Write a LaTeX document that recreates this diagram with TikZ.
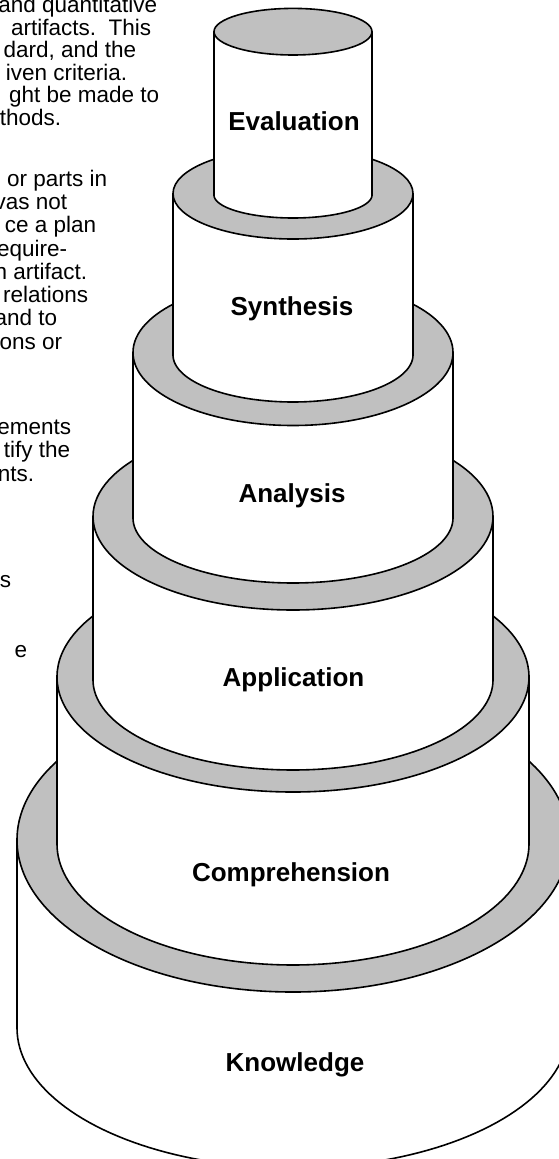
\documentclass[tikz,border=0pt]{standalone}
\usepackage{fontspec}
\setmainfont{Liberation Sans}
\definecolor{ring}{RGB}{192,192,192}
\newcommand\drawtier[5]{%
  \draw[body] ({293-#1},#2) -- ({293-#1},#4)
    -- plot[domain=180:360,samples=90] ({293+#1*cos(\x)},{#4-#5*sin(\x)})
    -- ({293+#1},#2) -- cycle;
  \draw[top] (293,#2) ellipse [x radius=#1, y radius=#3];
}
\begin{document}
\begin{tikzpicture}[x=1pt,y=-1pt, line width=1.6pt, line join=round,
  body/.style={fill=white,draw=black},
  top/.style={fill=ring,draw=black},
  lbl/.style={font=\fontsize{26}{30}\selectfont\bfseries, anchor=base},
  txt/.style={font=\fontsize{22.5}{26}\selectfont, anchor=base east, inner sep=0pt}]
\useasboundingbox (0,0) rectangle (559,1159);
\clip (0,0) rectangle (559,1159);
% left text (cut off by the left edge)
\node[txt] (t1) at (158,12.7) {and quantitative};
\node[txt] (t2) at (152,35) {artifacts.\ \ This};
\node[txt] (t3) at (137,57.5) {dard, and the};
\node[txt] (t4) at (128,80) {iven criteria.};
\node[txt] (t5) at (160,102.5) {ght be made to};
\node[txt] (t6) at (62,125) {thods.};
\node[txt] (s1) at (108,186) {or parts in};
\node[txt] (s2) at (68,209.3) {vas not};
\node[txt] (s3) at (97,232.6) {ce a plan};
\node[txt] (s4) at (68,256) {equire-};
\node[txt] (s5) at (88,279.2) {n artifact.};
\node[txt] (s6) at (89,302.5) {relations};
\node[txt] (s7) at (58,325.8) {and to};
\node[txt] (s8) at (63,349.1) {ons or};
\node[txt] (a1) at (72,434) {ements};
\node[txt] (a2) at (71,457) {tify the};
\node[txt] (a3) at (35,481) {nts.};
\node[txt] (a4) at (12,587) {s};
\node[txt] (a5) at (28,657) {e};
% tiers, bottom first
\drawtier{276}{840}{152}{1028}{140}
\drawtier{236}{677}{115}{844}{121}
\drawtier{200}{516.5}{93.5}{680}{90}
\drawtier{160}{352.5}{73}{518}{65}
\drawtier{120}{193.5}{45.5}{355}{47}
\drawtier{79}{31.7}{23.3}{195}{23}
% labels
\node[lbl] (eval) at (294,130) {Evaluation};
\node[lbl] (syn) at (292,315) {Synthesis};
\node[lbl] (ana) at (292,502) {Analysis};
\node[lbl] (app) at (293.5,686) {Application};
\node[lbl] (comp) at (291,881) {Comprehension};
\node[lbl] (know) at (295,1071) {Knowledge};
\end{tikzpicture}
\end{document}
